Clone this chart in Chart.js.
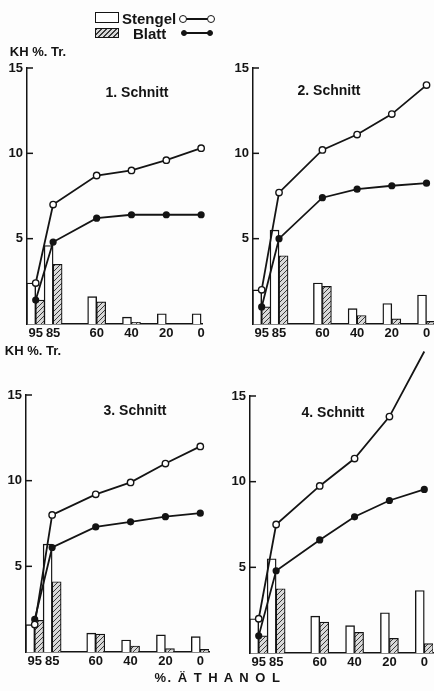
<!DOCTYPE html>
<html lang="de">
<head>
<meta charset="UTF-8">
<title>KH %. Tr. - Stengel / Blatt</title>
<script src="https://cdn.jsdelivr.net/npm/chart.js"></script>
<style>
  body { margin: 0; background: #fff; overflow: hidden; }
  #sheet {
    position: relative; width: 434px; height: 691px; overflow: hidden;
    background: #fdfdfd; color: #141414;
    font-family: 'Liberation Sans', Arial, sans-serif; font-weight: bold;
  }
  #sheet canvas { position: absolute; }
  .txt { position: absolute; white-space: nowrap; line-height: 1; }
  .c { transform: translate(-50%, -50%); }
  .box { position: absolute; border: 1.5px solid #141414; box-sizing: border-box; }
  .seg { position: absolute; height: 2px; background: #141414; }
  .dot { position: absolute; border-radius: 50%; box-sizing: border-box; border: 1.5px solid #141414; }
</style>
</head>
<body>
<div id="sheet">
  <canvas id="c1" width="217" height="350" style="left:0;top:0"></canvas>
  <canvas id="c2" width="224" height="350" style="left:217px;top:0"></canvas>
  <canvas id="c3" width="217" height="351" style="left:0;top:340px"></canvas>
  <canvas id="c4" width="224" height="351" style="left:217px;top:340px"></canvas>

  <!-- legend -->
  <div class="box" style="left:95px;top:12px;width:24px;height:11px;background:#fff"></div>
  <div class="txt" style="left:122px;top:11px;font-size:15px">Stengel</div>
  <div class="seg" style="left:182px;top:18px;width:29px"></div>
  <div class="dot" style="left:179px;top:15px;width:8px;height:8px;background:#fff"></div>
  <div class="dot" style="left:207px;top:15px;width:8px;height:8px;background:#fff"></div>
  <div class="box" style="left:95px;top:28px;width:24px;height:10px;background:repeating-linear-gradient(135deg,#3a3a3a 0 1px,#d9d9d9 1px 3.5px)"></div>
  <div class="txt" style="left:133px;top:26px;font-size:15px">Blatt</div>
  <div class="seg" style="left:183px;top:32px;width:27px"></div>
  <div class="dot" style="left:181px;top:30px;width:6px;height:6px;background:#141414"></div>
  <div class="dot" style="left:207px;top:30px;width:6px;height:6px;background:#141414"></div>

  <div class="txt c" style="left:38px;top:51px;font-size:13px">KH %. Tr.</div>
  <div class="txt c" style="left:33px;top:350px;font-size:13px">KH %. Tr.</div>

  <div class="txt c" style="left:137px;top:92px;font-size:14px">1. Schnitt</div>
  <div class="txt c" style="left:329px;top:90px;font-size:14px">2. Schnitt</div>
  <div class="txt c" style="left:135px;top:410px;font-size:14px">3. Schnitt</div>
  <div class="txt c" style="left:333px;top:412px;font-size:14px">4. Schnitt</div>

  <div class="txt c" style="left:218px;top:677px;font-size:13px;letter-spacing:1.5px">%. Ä T H A N O L</div>
</div>

<script>
// x positions: % ethanol
const xValues = [95, 85, 60, 40, 20, 0];
const yTicks = [5, 10, 15];

// 1. Schnitt
const stengelBars1 = [2.4, 4.6, 1.6, 0.4, 0.6, 0.6];
const blattBars1 = [1.4, 3.5, 1.3, 0.1, 0, 0];
const stengelLine1 = [2.4, 7.0, 8.7, 9.0, 9.6, 10.3];
const blattLine1 = [1.4, 4.8, 6.2, 6.4, 6.4, 6.4];

// 2. Schnitt
const stengelBars2 = [2.0, 5.5, 2.4, 0.9, 1.2, 1.7];
const blattBars2 = [1.0, 4.0, 2.2, 0.5, 0.3, 0.15];
const stengelLine2 = [2.0, 7.7, 10.2, 11.1, 12.3, 14.0];
const blattLine2 = [1.0, 5.0, 7.4, 7.9, 8.1, 8.25];

// 3. Schnitt
const stengelBars3 = [1.6, 6.3, 1.1, 0.7, 1.0, 0.9];
const blattBars3 = [1.85, 4.1, 1.05, 0.35, 0.2, 0.15];
const stengelLine3 = [1.6, 8.0, 9.2, 9.9, 11.0, 12.0];
const blattLine3 = [1.9, 6.1, 7.3, 7.6, 7.9, 8.1];

// 4. Schnitt
const stengelBars4 = [2.0, 5.5, 2.15, 1.6, 2.35, 3.65];
const blattBars4 = [1.0, 3.75, 1.8, 1.2, 0.85, 0.55];
const stengelLine4 = [2.0, 7.5, 9.75, 11.35, 13.8, 17.6];
const blattLine4 = [1.0, 4.8, 6.6, 7.95, 8.9, 9.55];

const ink = '#141414';

function pts(vals) {
  return xValues.map(function (x, i) { return { x: x, y: vals[i] }; });
}

function makeHatch() {
  var c = document.createElement('canvas');
  c.width = 5; c.height = 5;
  var g = c.getContext('2d');
  g.fillStyle = '#d9d9d9';
  g.fillRect(0, 0, 5, 5);
  g.strokeStyle = '#3a3a3a';
  g.lineWidth = 1;
  g.beginPath();
  g.moveTo(-1, 6); g.lineTo(6, -1);
  g.moveTo(-1, 1); g.lineTo(1, -1);
  g.moveTo(4, 6); g.lineTo(6, 4);
  g.stroke();
  return g.createPattern(c, 'repeat');
}
const hatch = makeHatch();

// short ticks pointing into the plot, like the original
const innerTicks = {
  id: 'innerTicks',
  afterDatasetsDraw: function (chart) {
    var ctx = chart.ctx, area = chart.chartArea, y = chart.scales.y;
    ctx.save();
    ctx.strokeStyle = ink;
    ctx.lineWidth = 1.5;
    yTicks.forEach(function (v) {
      var py = y.getPixelForValue(v);
      ctx.beginPath();
      ctx.moveTo(area.left, py);
      ctx.lineTo(area.left + 6, py);
      ctx.stroke();
    });
    ctx.restore();
  }
};

const panels = [
  { id: 'c1', sb: stengelBars1, bb: blattBars1, sl: stengelLine1, bl: blattLine1, xMin: -0.5, left: 27, top: 68, right: 202, bottom: 324 },
  { id: 'c2', sb: stengelBars2, bb: blattBars2, sl: stengelLine2, bl: blattLine2, xMin: -5, left: 36, top: 68, right: 219, bottom: 324 },
  { id: 'c3', sb: stengelBars3, bb: blattBars3, sl: stengelLine3, bl: blattLine3, xMin: -5, left: 26, top: 55, right: 209, bottom: 312 },
  { id: 'c4', sb: stengelBars4, bb: blattBars4, sl: stengelLine4, bl: blattLine4, xMin: -5, left: 33, top: 56, right: 216, bottom: 313 }
];

panels.forEach(function (p) {
  var canvas = document.getElementById(p.id);
  var w = canvas.width, h = canvas.height;
  new Chart(canvas.getContext('2d'), {
    type: 'bar',
    data: {
      datasets: [
        {
          type: 'line', label: 'Stengel', data: pts(p.sl),
          borderColor: ink, borderWidth: 1.8, tension: 0,
          pointRadius: 3.2, pointBackgroundColor: '#fff', pointBorderColor: ink, pointBorderWidth: 1.4,
          clip: false, order: 0
        },
        {
          type: 'line', label: 'Blatt', data: pts(p.bl),
          borderColor: ink, borderWidth: 1.8, tension: 0,
          pointRadius: 2.7, pointBackgroundColor: ink, pointBorderColor: ink,
          clip: false, order: 0
        },
        {
          label: 'Stengel', data: pts(p.sb),
          backgroundColor: '#fff', borderColor: ink, borderWidth: 1.4,
          barThickness: 9, order: 1
        },
        {
          label: 'Blatt', data: pts(p.bb),
          backgroundColor: hatch, borderColor: ink, borderWidth: 1.2,
          barThickness: 9, order: 1
        }
      ]
    },
    options: {
      responsive: false,
      animation: false,
      layout: { padding: { left: 0, top: p.top, right: w - p.right, bottom: 0 } },
      plugins: { legend: { display: false }, tooltip: { enabled: false } },
      scales: {
        x: {
          type: 'linear', reverse: true, min: p.xMin, max: 100, offset: false,
          grid: { drawOnChartArea: false, drawTicks: false, offset: false },
          border: { color: ink, width: 1.5 },
          afterBuildTicks: function (s) { s.ticks = xValues.map(function (v) { return { value: v }; }); },
          afterFit: function (s) { s.height = h - p.bottom; },
          ticks: {
            autoSkip: false, maxRotation: 0, padding: 2, color: ink,
            font: { family: "'Liberation Sans', Arial, sans-serif", size: 13, weight: 'bold' }
          }
        },
        y: {
          min: 0, max: 15,
          grid: { drawOnChartArea: false, drawTicks: false },
          border: { color: ink, width: 1.5 },
          afterBuildTicks: function (s) { s.ticks = yTicks.map(function (v) { return { value: v }; }); },
          afterFit: function (s) { s.width = p.left; },
          ticks: {
            padding: 4, color: ink,
            font: { family: "'Liberation Sans', Arial, sans-serif", size: 13, weight: 'bold' }
          }
        }
      }
    },
    plugins: [innerTicks]
  });
});
</script>
</body>
</html>
